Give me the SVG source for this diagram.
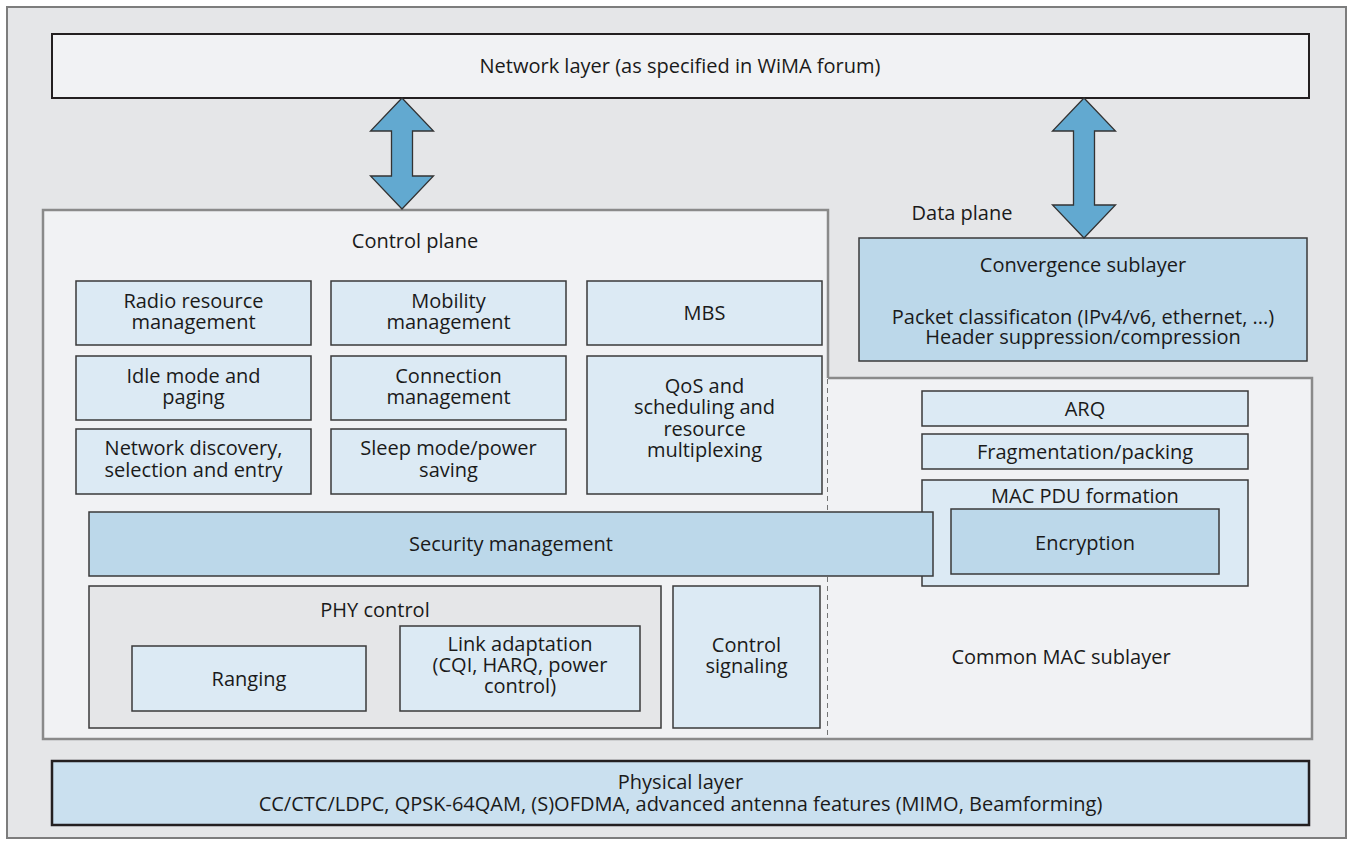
<svg xmlns="http://www.w3.org/2000/svg" width="1351" height="846" viewBox="0 0 1351 846">
<style>
text{font-family:"Open Sans","Noto Sans","Liberation Sans",sans-serif;font-size:20px;fill:#1a1a1a;text-anchor:middle}
.lb{fill:#dceaf4;stroke:#3a3a3a;stroke-width:1.5}
.mb{fill:#bcd8ea;stroke:#3a3a3a;stroke-width:1.5}
.arrow{fill:#62a9d0;stroke:#333;stroke-width:1.3;stroke-linejoin:miter}
</style>
<rect id="background" x="7" y="7" width="1339" height="831" fill="#e5e6e8" stroke="#7d7d7d" stroke-width="2"/>

<g id="network-layer">
<rect x="52" y="34" width="1257" height="64" fill="#f1f2f4" stroke="#231f20" stroke-width="2"/>
<text x="680" y="73">Network layer (as specified in WiMA forum)</text>
</g>

<g id="control-plane">
<rect x="43" y="210" width="785" height="529" fill="#f1f2f4"/>
<path d="M828,378 V210 H43 V739 H828" fill="none" stroke="#8a8a8a" stroke-width="2.5"/>
<line x1="828" y1="379" x2="828" y2="739" stroke="#333" stroke-width="1.3" stroke-dasharray="5,4"/>
<text x="415" y="248">Control plane</text>
</g>

<g id="common-mac">
<rect x="828" y="378" width="484" height="361" fill="#f1f2f4"/>
<path d="M828,378 H1312 V739 H828" fill="none" stroke="#8a8a8a" stroke-width="2.5"/>
<text x="1061" y="664">Common MAC sublayer</text>
</g>

<g id="data-plane-label"><text x="962" y="220">Data plane</text></g>

<g id="convergence">
<rect class="mb" x="859" y="238" width="448" height="123"/>
<text x="1083" y="272">Convergence sublayer</text>
<text x="1083" y="324">Packet classificaton (IPv4/v6, ethernet, ...)</text>
<text x="1083" y="344">Header suppression/compression</text>
</g>

<g id="radio-resource">
<rect class="lb" x="76" y="281" width="235" height="64"/>
<text x="193.5" y="308">Radio resource</text><text x="193.5" y="329">management</text>
</g>
<g id="mobility">
<rect class="lb" x="331" y="281" width="235" height="64"/>
<text x="448.5" y="308">Mobility</text><text x="448.5" y="329">management</text>
</g>
<g id="mbs">
<rect class="lb" x="587" y="281" width="235" height="64"/>
<text x="704.5" y="320">MBS</text>
</g>
<g id="idle-mode">
<rect class="lb" x="76" y="356" width="235" height="64"/>
<text x="193.5" y="383">Idle mode and</text><text x="193.5" y="404">paging</text>
</g>
<g id="connection">
<rect class="lb" x="331" y="356" width="235" height="64"/>
<text x="448.5" y="383">Connection</text><text x="448.5" y="404">management</text>
</g>
<g id="qos">
<rect class="lb" x="587" y="356" width="235" height="138"/>
<text x="704.5" y="392.5">QoS and</text><text x="704.5" y="414">scheduling and</text><text x="704.5" y="435.5">resource</text><text x="704.5" y="457">multiplexing</text>
</g>
<g id="network-discovery">
<rect class="lb" x="76" y="429" width="235" height="65"/>
<text x="193.5" y="455">Network discovery,</text><text x="193.5" y="477">selection and entry</text>
</g>
<g id="sleep-mode">
<rect class="lb" x="331" y="429" width="235" height="65"/>
<text x="448.5" y="455">Sleep mode/power</text><text x="448.5" y="477">saving</text>
</g>

<g id="arq">
<rect class="lb" x="922" y="391" width="326" height="35"/>
<text x="1085" y="416">ARQ</text>
</g>
<g id="fragmentation">
<rect class="lb" x="922" y="434" width="326" height="35"/>
<text x="1085" y="459">Fragmentation/packing</text>
</g>
<g id="mac-pdu">
<rect class="lb" x="922" y="480" width="326" height="106"/>
<text x="1085" y="503">MAC PDU formation</text>
</g>
<g id="security">
<rect class="mb" x="89" y="512" width="844" height="64"/>
<text x="511" y="551">Security management</text>
</g>
<g id="encryption">
<rect class="mb" x="951" y="509" width="268" height="65"/>
<text x="1085" y="550">Encryption</text>
</g>

<g id="phy-control">
<rect x="89" y="586" width="572" height="142" fill="#e5e6e8" stroke="#3a3a3a" stroke-width="1.5"/>
<text x="375" y="617">PHY control</text>
</g>
<g id="ranging">
<rect class="lb" x="132" y="646" width="234" height="65"/>
<text x="249" y="686">Ranging</text>
</g>
<g id="link-adaptation">
<rect class="lb" x="400" y="626" width="240" height="85"/>
<text x="520" y="651">Link adaptation</text><text x="520" y="672">(CQI, HARQ, power</text><text x="520" y="693">control)</text>
</g>
<g id="control-signaling">
<rect class="lb" x="673" y="586" width="147" height="142"/>
<text x="746.5" y="652">Control</text><text x="746.5" y="673">signaling</text>
</g>

<g id="physical-layer">
<rect x="52" y="761" width="1257" height="64" fill="#cae0ef" stroke="#231f20" stroke-width="2.5"/>
<text x="680.5" y="789">Physical layer</text>
<text x="680.5" y="811">CC/CTC/LDPC, QPSK-64QAM, (S)OFDMA, advanced antenna features (MIMO, Beamforming)</text>
</g>

<g id="connectors">
<polygon class="arrow" points="402,98 433.5,131 412.5,131 412.5,176 433.5,176 402,209 370.5,176 391.5,176 391.5,131 370.5,131"/>
<polygon class="arrow" points="1084,98 1115.5,131 1094.5,131 1094.5,205 1115.5,205 1084,238 1052.5,205 1073.5,205 1073.5,131 1052.5,131"/>
</g>
</svg>
